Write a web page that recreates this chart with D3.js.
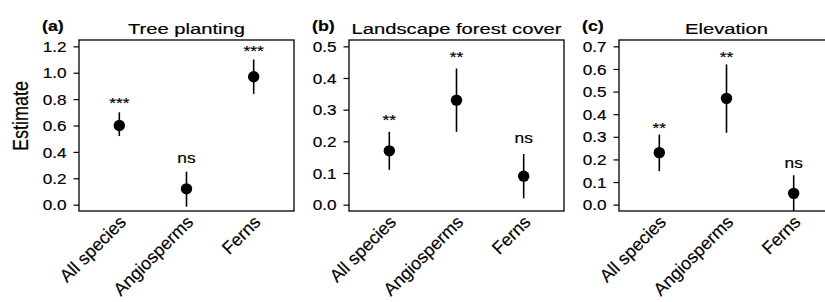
<!DOCTYPE html>
<html>
<head>
<meta charset="utf-8">
<script src="https://cdn.jsdelivr.net/npm/d3@7"></script>
<style>
  body { margin: 0; background: #fff; }
  text { font-family: "Liberation Sans", Arial, sans-serif; fill: #000; stroke: #000; stroke-width: 0.18px; }
</style>
</head>
<body>
<div id="chart"></div>
<script>
// groups on the x axis
const categories = ["All species", "Angiosperms", "Ferns"];
// one entry per panel
const panelLetters = ["(a)", "(b)", "(c)"];
const panelTitles = ["Tree planting", "Landscape forest cover", "Elevation"];
const yLimits = [1.2, 0.5, 0.7];
const yTicks = [
  [0, 0.2, 0.4, 0.6, 0.8, 1.0, 1.2],
  [0, 0.1, 0.2, 0.3, 0.4, 0.5],
  [0, 0.1, 0.2, 0.3, 0.4, 0.5, 0.6, 0.7]
];
// estimate and confidence interval, rows = panels, cols = categories
const estimates = [
  [0.60, 0.12, 0.97],
  [0.17, 0.33, 0.09],
  [0.23, 0.47, 0.05]
];
const lower = [
  [0.52, -0.015, 0.84],
  [0.11, 0.23, 0.02],
  [0.148, 0.318, -0.03]
];
const upper = [
  [0.70, 0.25, 1.10],
  [0.23, 0.43, 0.16],
  [0.31, 0.62, 0.13]
];
const signif = [
  ["***", "ns", "***"],
  ["**", "**", "ns"],
  ["**", "**", "ns"]
];

var cfg = {
  w: 825,
  h: 302,
  left: [79, 349, 619],  // left edge of each box
  pw: 215,               // box width
  top: 40,
  bottom: 211,
  gap: [4, 6.5, 2],      // space between bar top and its label
  sx: 1.2                // horizontal stretch of the text
};

var svg = d3.select("#chart")
  .append("svg")
  .attr("width", cfg.w)
  .attr("height", cfg.h);

// text stretched sideways like in the original figure
function stretchText(parent, x, y, str, size, opts) {
  opts = opts || {};
  return parent.append("text")
    .attr("transform", "translate(" + x + "," + y + ") scale(" + (opts.sx || cfg.sx) + ",1)" + (opts.rot ? " rotate(" + opts.rot + ")" : ""))
    .attr("text-anchor", opts.anchor || "middle")
    .attr("font-size", size + "px")
    .attr("font-weight", opts.bold ? "bold" : null)
    .text(str);
}

// y axis title
stretchText(svg, 28, 116, "Estimate", 18, {rot: -90, sx: 1.22});

panelTitles.forEach(function(title, p) {
  var x0 = cfg.left[p], x1 = x0 + cfg.pw;
  var ext = yLimits[p] * 0.04;

  var x = d3.scaleLinear().domain([0.4, 3.6]).range([x0, x1]);
  var y = d3.scaleLinear().domain([-ext, yLimits[p] + ext]).range([cfg.bottom, cfg.top]);

  var g = svg.append("g");

  g.append("clipPath").attr("id", "clip" + p)
    .append("rect")
    .attr("x", x0).attr("y", cfg.top)
    .attr("width", cfg.pw).attr("height", cfg.bottom - cfg.top);

  // box
  g.append("rect")
    .attr("x", x0).attr("y", cfg.top)
    .attr("width", cfg.pw).attr("height", cfg.bottom - cfg.top)
    .attr("fill", "none").attr("stroke", "#000").attr("stroke-width", 1.3);

  // y axis
  var yAxis = g.append("g")
    .attr("transform", "translate(" + x0 + ",0)")
    .call(d3.axisLeft(y).tickValues(yTicks[p]).tickSize(5.5).tickFormat(d3.format(".1f")));
  yAxis.select(".domain").remove();
  yAxis.selectAll("line").attr("stroke-width", 1.2);
  yAxis.selectAll("text")
    .attr("font-size", "14.3px")
    .attr("font-family", "Liberation Sans, Arial, sans-serif")
    .attr("x", -12.5 / cfg.sx)
    .attr("dy", "0.36em")
    .attr("transform", "scale(" + cfg.sx + ",1)");

  // category labels
  categories.forEach(function(c, i) {
    g.append("text")
      .attr("transform", "translate(" + (x(i + 1) + 3.5) + ",219) rotate(-45)")
      .attr("text-anchor", "end")
      .attr("dominant-baseline", "central")
      .attr("font-size", "17.8px")
      .text(c);
  });

  // titles
  stretchText(g, (x0 + x1) / 2, 34, title, 15.3, {sx: 1.32});
  stretchText(g, x0 - 37, 31, panelLetters[p], 15.5, {anchor: "start", bold: true, sx: 1.15});

  var plot = g.append("g").attr("clip-path", "url(#clip" + p + ")");

  // error bars
  plot.selectAll(".bar")
    .data(categories)
    .enter().append("line")
    .attr("x1", function(d, i) { return x(i + 1); })
    .attr("x2", function(d, i) { return x(i + 1); })
    .attr("y1", function(d, i) { return y(lower[p][i]); })
    .attr("y2", function(d, i) { return y(upper[p][i]); })
    .attr("stroke", "#000")
    .attr("stroke-width", 1.6);

  // points
  plot.selectAll(".pt")
    .data(categories)
    .enter().append("circle")
    .attr("cx", function(d, i) { return x(i + 1); })
    .attr("cy", function(d, i) { return y(estimates[p][i]); })
    .attr("r", 5.7)
    .attr("fill", "#000");

  // significance labels
  categories.forEach(function(c, i) {
    var lab = signif[p][i];
    var yy = y(upper[p][i]) - cfg.gap[p] - (lab === "ns" ? 5 : 0);
    stretchText(g, x(i + 1), yy, lab, 14.5, {sx: 1.2});
  });
});
</script>
</body>
</html>
